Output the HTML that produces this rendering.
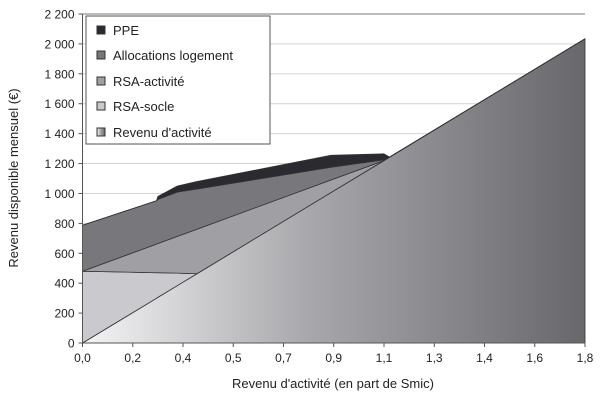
<!DOCTYPE html>
<html><head><meta charset="utf-8"><style>
body{margin:0;background:#fff;}
svg text{font-family:"Liberation Sans",sans-serif;fill:#222;}
</style></head><body>
<svg id="chart" width="612" height="403" viewBox="0 0 612 403">
<defs>
<linearGradient id="gAct" x1="0" x2="1" y1="0" y2="0">
<stop offset="0" stop-color="#f4f4f6"/><stop offset="0.45" stop-color="#a8a8ac"/><stop offset="1" stop-color="#68686c"/>
</linearGradient>
</defs>
<g id="grid"></g>
<g id="areas"></g>
<g id="axes"></g>
<text x="18" y="178" font-size="13" text-anchor="middle" transform="rotate(-90 18 178)">Revenu disponible mensuel (€)</text>
<text x="333" y="388" font-size="13" text-anchor="middle">Revenu d'activité (en part de Smic)</text>
<g>
<rect x="86" y="16" width="184" height="128" fill="#fff" stroke="#555" stroke-width="1"/>
<g><rect x="97" y="26" width="8" height="8" fill="#2a2a30" stroke="#333"/><text x="113" y="35" font-size="13">PPE</text></g>
<g><rect x="97" y="51" width="8" height="8" fill="#77777c" stroke="#333"/><text x="113" y="60" font-size="13">Allocations logement</text></g>
<g><rect x="97" y="77" width="8" height="8" fill="#a0a0a4" stroke="#333"/><text x="113" y="86" font-size="13">RSA-activité</text></g>
<g><rect x="97" y="102" width="8" height="8" fill="#cacace" stroke="#333"/><text x="113" y="111" font-size="13">RSA-socle</text></g>
<g><rect x="97" y="128" width="8" height="8" fill="url(#gAct)" stroke="#333"/><text x="113" y="137" font-size="13">Revenu d'activité</text></g>
</g>
</svg>
<script>
const xs = [0, 0.265, 0.27, 0.34, 0.41, 0.89, 1.08, 1.1, 1.8];
const activite = [0, 299, 305, 384, 463, 1006, 1220, 1243, 2034];
const rsaSocle = [480, 171, 165, 83, 0, 0, 0, 0, 0];
const rsaActivite = [0, 191, 195, 246, 298, 84, 0, 0, 0];
const allocLogement = [307, 290, 295, 297, 269, 85, 5, 0, 0];
const ppe = [0, 0, 20, 40, 50, 80, 40, 0, 0];
const yTicks = [0, 200, 400, 600, 800, 1000, 1200, 1400, 1600, 1800, 2000, 2200];
const yTickLabels = ["0","200","400","600","800","1 000","1 200","1 400","1 600","1 800","2 000","2 200"];
const xTickLabels = ["0,0","0,2","0,4","0,5","0,7","0,9","1,1","1,3","1,4","1,6","1,8"];

const X0=82.5, X1=585, Y0=343, Y1=14, XMAX=1.8, YMAX=2200;
const sx = v => X0 + (v/XMAX)*(X1-X0);
const sy = v => Y0 - (v/YMAX)*(Y0-Y1);
const NS="http://www.w3.org/2000/svg";
function mk(tag, attrs, parent){const e=document.createElementNS(NS,tag);for(const k in attrs)e.setAttribute(k,attrs[k]);parent.appendChild(e);return e;}
const grid=document.getElementById('grid'), areas=document.getElementById('areas'), axes=document.getElementById('axes');

yTicks.forEach((t,i)=>{
  if(i>0){const l=mk('line',{x1:X0,x2:X1,y1:sy(t),y2:sy(t),stroke:i===yTicks.length-1?'#777':'#d4d4d4','stroke-width':1},grid);
  
  }
  const tk=mk('line',{x1:X0-4,x2:X0,y1:sy(t),y2:sy(t),stroke:'#555'},axes);
  
  
  const tx=mk('text',{x:X0-8,y:sy(t)+4.5,'font-size':12,'text-anchor':'end'},axes);
  tx.textContent=yTickLabels[i];
  
  
});
xTickLabels.forEach((lab,i)=>{
  const v=i*XMAX/(xTickLabels.length-1);
  const tk=mk('line',{x1:sx(v),x2:sx(v),y1:Y0,y2:Y0+4,stroke:'#555'},axes);
  
  
  const tx=mk('text',{x:sx(v),y:Y0+19,'font-size':12,'text-anchor':'middle'},axes);
  tx.textContent=lab;
  
  
});

const series=[
 {name:'area-revenu-activite',vals:activite,fill:'url(#gAct)'},
 {name:'area-rsa-socle',vals:rsaSocle,fill:'#cacace'},
 {name:'area-rsa-activite',vals:rsaActivite,fill:'#a0a0a4'},
 {name:'area-allocations-logement',vals:allocLogement,fill:'#77777c'},
 {name:'area-ppe',vals:ppe,fill:'#2a2a30'}
];
let base=xs.map(()=>0);
series.forEach(s=>{
  const top=base.map((b,i)=>b+s.vals[i]);
  let d='M'+xs.map((x,i)=>sx(x)+','+sy(top[i])).join(' L');
  for(let i=xs.length-1;i>=0;i--) d+=' L'+sx(xs[i])+','+sy(base[i]);
  d+=' Z';
  const p=mk('path',{d:d,fill:s.fill,stroke:'#333','stroke-width':0.8,'stroke-linejoin':'round'},areas);
  
  
  base=top;
});
const ax=mk('line',{x1:X0,x2:X0,y1:Y1,y2:Y0,stroke:'#555'},axes);


const bx=mk('line',{x1:X0,x2:X1,y1:Y0,y2:Y0,stroke:'#555'},axes);


</script>
</body></html>
